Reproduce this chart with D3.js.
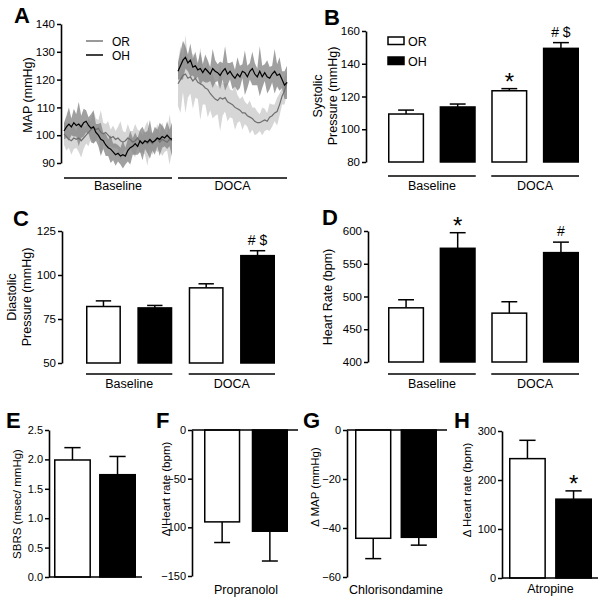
<!DOCTYPE html>
<html><head><meta charset="utf-8">
<script src="https://cdn.jsdelivr.net/npm/d3@7"></script>
<style>body{margin:0;background:#fff}svg{display:block}text{font-family:"Liberation Sans",Arial,sans-serif;fill:#000}</style>
</head><body><svg id="c" width="604" height="601"></svg>
<script>
// ---------- DATA ----------
const groups = ["Baseline", "DOCA"];
const strains = ["OR", "OH"];
const barCats = ["OR Baseline", "OH Baseline", "OR DOCA", "OH DOCA"];

// Panel A: MAP time course (mean and SEM)
const mapTicks = [90, 100, 110, 120, 130, 140];
const mapBaselineOH = [101.5,103,104,103,104.5,103.5,104,103,104.5,105,103.5,102.5,103,101,100,98.5,98,96.5,95.5,95,94,93,93.5,92.5,93,92.5,94.5,95.5,96,97,96,98,97,98,97.5,98.5,97.5,98,99,98.5,99.5,99,100,99,98.5];
const mapBaselineOR = [100.5,99.5,98.5,98,99,98.5,99,98,99,100,101,102,103,102,102.5,101,100.5,101,100,99,99.5,98.5,99,98,97.5,98,99,98.5,97.5,98,99,97.5,97,98,97,98,97,98,99,97.5,98.5,98,97.5,98.5,98];
const semBaselineOH = [3,4,6,3,5,4,8,4,5,4,3,5,6,3,4,6,3,4,3,5,3,4,3,3,5,3,4,6,3,4,3,4,6,3,4,7,3,5,3,6,4,3,5,3,6];
const semBaselineOR = [4,5,3,5,4,3,5,6,4,3,5,3,6,4,3,8,4,3,5,3,4,3,4,7,4,3,5,3,4,6,3,4,3,5,8,3,4,3,5,3,6,4,3,9,4];
const mapDocaOH = [123,125,127,128,126,127,124.5,125,123.5,124,122.5,124,123,122,124,123,122.5,121.5,123,124,122,123,121.5,120.5,122,121,123,122.5,121,123,124,122,121,123,121,122.5,121,120.5,122,123,121.5,122,120,118,119];
const mapDocaOR = [118.5,120,121.5,122,120.5,121,119.5,120.5,119,118.5,118,117,116.5,115,114,113,112.5,113.5,113,113.5,112,111.5,111,110,109.5,109,108,108,107,106.5,106,105,104.5,104.5,105,105.5,105,106.5,107,108,108.5,111,114,116,119];
const semDocaOH = [3,5,7,4,3,6,3,5,2.5,6,3,5,4,2.5,7,4,3,5,3,8,4,3,5,3,6,4,2.5,8,4,3,6,4,3,9,4,3,6,4,3,8,4,6,3,5,6];
const semDocaOR = [8,12,6,14,7,6,10,7,6,13,7,6,10,6,8,6,5,12,6,5,7,5,5,8,5,4,6,4,4,6,4,5,4,3,5,4,3,5,4,3,5,4,3,5,4];

// Panel B: systolic
const systolicMean = [109.3, 113.6, 123.5, 149.4];
const systolicSEM = [2.4, 1.8, 1.3, 3.5];
const systolicTicks = [80, 100, 120, 140, 160];
const systolicMarks = ["", "", "*", "# $"];
// Panel C: diastolic
const diastolicMean = [82.1, 81.3, 92.7, 111.0];
const diastolicSEM = [3.2, 1.4, 2.3, 2.8];
const diastolicTicks = [50, 75, 100, 125];
const diastolicMarks = ["", "", "", "# $"];
// Panel D: heart rate
const heartRateMean = [482.7, 573.6, 474.6, 567.0];
const heartRateSEM = [12.3, 23.8, 17.4, 16.0];
const heartRateTicks = [400, 450, 500, 550, 600];
const heartRateMarks = ["", "*", "", "#"];
// Panel E: SBRS
const sbrsMean = [1.99, 1.74];
const sbrsSEM = [0.21, 0.31];
const sbrsTicks = [0, 0.5, 1.0, 1.5, 2.0, 2.5];
// Panel F: propranolol
const propranololMean = [-94.4, -104.0];
const propranololSEM = [21.2, 30.6];
const propranololTicks = [-150, -100, -50, 0];
// Panel G: chlorisondamine
const chlorMean = [-44.2, -43.8];
const chlorSEM = [8.3, 3.2];
const chlorTicks = [-60, -40, -20, 0];
// Panel H: atropine
const atropineMean = [243.6, 160.9];
const atropineSEM = [37.4, 16.9];
const atropineTicks = [0, 100, 200, 300];
const atropineMarks = ["", "*"];

// ---------- DRAWING ----------
const svg = d3.select("#c");
const FONT = '"Liberation Sans", Arial, sans-serif';

function styleAxis(a, fs) {
  a.attr("font-family", FONT);
  a.select(".domain").attr("stroke", "#000").attr("stroke-width", 1.6);
  a.selectAll(".tick line").attr("stroke", "#000").attr("stroke-width", 1.5);
  a.selectAll(".tick text").attr("font-size", fs).attr("fill", "#000").attr("x", -6);
}

function yLabel(lines, cx, cy, fs, gap) {
  lines.forEach((t, i) => {
    const x = cx + (i - (lines.length - 1) / 2) * gap;
    svg.append("text").attr("transform", `translate(${x},${cy}) rotate(-90)`)
      .attr("text-anchor", "middle").attr("dy", "0.35em").attr("font-size", fs).text(t);
  });
}

function letter(t, x, y) {
  svg.append("text").attr("x", x).attr("y", y).attr("font-size", 22).attr("font-weight", "bold").text(t);
}

function barPanel(o) {
  const y = d3.scaleLinear().domain(o.domain).range(o.yRange);
  const x = d3.scaleBand().domain(o.cats).range(o.xRange).paddingInner(o.pad).paddingOuter(0);
  const bw = x.bandwidth();
  const base = o.base;
  const data = o.cats.map((c, i) => ({ c, v: o.mean[i], e: o.sem[i], m: o.marks ? o.marks[i] : "", fill: i % 2 === 0 ? "#fff" : "#000" }));
  const g = svg.append("g");
  data.forEach(d => {
    const end = d.v >= base ? d.v + d.e : d.v - d.e;
    const cx = x(d.c) + bw / 2;
    g.append("line").attr("x1", cx).attr("x2", cx).attr("y1", y(d.v)).attr("y2", y(end)).attr("stroke", "#000").attr("stroke-width", 1.5);
    g.append("line").attr("x1", cx - bw * 0.22).attr("x2", cx + bw * 0.22).attr("y1", y(end)).attr("y2", y(end)).attr("stroke", "#000").attr("stroke-width", 1.5);
    if (d.m) {
      const star = d.m === "*";
      g.append("text").attr("x", cx).attr("y", y(end) + (star ? 1.5 : -6)).attr("text-anchor", "middle")
        .attr("font-size", star ? 24 : 14).text(d.m);
    }
  });
  g.selectAll("rect.bar").data(data).join("rect")
    .attr("x", d => x(d.c) + 0.75).attr("width", bw - 1.5)
    .attr("y", d => Math.min(y(d.v), y(base))).attr("height", d => Math.abs(y(d.v) - y(base)))
    .attr("fill", d => d.fill).attr("stroke", "#000").attr("stroke-width", 1.5);
  if (o.xAxisTo) {
    g.append("line").attr("x1", o.axisX).attr("x2", o.xAxisTo).attr("y1", y(base)).attr("y2", y(base)).attr("stroke", "#000").attr("stroke-width", 1.6);
  }
  g.append("g").attr("transform", `translate(${o.axisX},0)`)
    .call(d3.axisLeft(y).tickValues(o.ticks).tickSize(4).tickSizeOuter(0).tickFormat(o.fmt || d3.format("d")))
    .call(a => styleAxis(a, o.tickFont));
  if (o.groupY) {
    groups.forEach((gname, gi) => {
      const x1 = x(o.cats[gi * 2]), x2 = x(o.cats[gi * 2 + 1]) + bw;
      g.append("line").attr("x1", x1).attr("x2", x2).attr("y1", o.groupY).attr("y2", o.groupY).attr("stroke", "#000").attr("stroke-width", 1.3);
      g.append("text").attr("x", (x1 + x2) / 2).attr("y", o.groupY + 14).attr("text-anchor", "middle").attr("font-size", 12.5).text(gname);
    });
  }
  if (o.catLabel) {
    g.append("text").attr("x", (o.xRange[0] + o.xRange[1]) / 2).attr("y", o.catLabelY).attr("text-anchor", "middle").attr("font-size", 12.5).text(o.catLabel);
  }
  return { x, y };
}

// ---- Panel A ----
(function () {
  const y = d3.scaleLinear().domain([90, 140]).range([163, 24]);
  const xb = d3.scaleLinear().domain([0, mapBaselineOH.length - 1]).range([64, 172]);
  const xd = d3.scaleLinear().domain([0, mapDocaOH.length - 1]).range([178, 287]);
  const g = svg.append("g");
  function band(xs, mean, sem, fill, op) {
    const area = d3.area().x((d, i) => xs(i)).y0((d, i) => y(d - sem[i])).y1((d, i) => y(d + sem[i]));
    g.append("path").datum(mean).attr("d", area).attr("fill", fill).attr("opacity", op);
  }
  function line(xs, mean, stroke, w) {
    const ln = d3.line().x((d, i) => xs(i)).y(d => y(d));
    g.append("path").datum(mean).attr("d", ln).attr("fill", "none").attr("stroke", stroke).attr("stroke-width", w);
  }
  band(xb, mapBaselineOR, semBaselineOR, "#d6d6d6", 1);
  band(xd, mapDocaOR, semDocaOR, "#d6d6d6", 1);
  band(xb, mapBaselineOH, semBaselineOH, "#808080", 0.75);
  band(xd, mapDocaOH, semDocaOH, "#808080", 0.75);
  line(xb, mapBaselineOR, "#6e6e6e", 1.2);
  line(xd, mapDocaOR, "#6e6e6e", 1.2);
  line(xb, mapBaselineOH, "#000", 1.2);
  line(xd, mapDocaOH, "#000", 1.2);
  g.append("g").attr("transform", "translate(61,0)")
    .call(d3.axisLeft(y).tickValues(mapTicks).tickSize(4).tickSizeOuter(0).tickFormat(d3.format("d")))
    .call(a => styleAxis(a, 11.5));
  [[xb, groups[0]], [xd, groups[1]]].forEach(([xs, name]) => {
    const [r0, r1] = xs.range();
    g.append("line").attr("x1", r0).attr("x2", r1).attr("y1", 178).attr("y2", 178).attr("stroke", "#000").attr("stroke-width", 1.3);
    g.append("text").attr("x", (r0 + r1) / 2).attr("y", 190).attr("text-anchor", "middle").attr("font-size", 12.5).text(name);
  });
  // legend
  [["#777", strains[0], 41], ["#000", strains[1], 55]].forEach(([c, t, ly]) => {
    g.append("line").attr("x1", 86).attr("x2", 103).attr("y1", ly).attr("y2", ly).attr("stroke", c).attr("stroke-width", 1.5);
    g.append("text").attr("x", 112).attr("y", ly + 4.5).attr("font-size", 12).text(t);
  });
})();
yLabel(["MAP (mmHg)"], 28, 95, 12.5, 0);
letter("A", 14, 23);

// ---- Panel B ----
barPanel({ cats: barCats, mean: systolicMean, sem: systolicSEM, marks: systolicMarks, domain: [80, 160], yRange: [162, 31],
  xRange: [388, 579], pad: 0.3, base: 80, ticks: systolicTicks, axisX: 366, tickFont: 11.5, groupY: 176 });
yLabel(["Systolic", "Pressure (mmHg)"], 325, 96, 12.5, 15);
letter("B", 324, 25);
[["#fff", strains[0], 37], ["#000", strains[1], 57]].forEach(([f, t, ly]) => {
  svg.append("rect").attr("x", 388).attr("y", ly).attr("width", 16).attr("height", 7.5).attr("fill", f).attr("stroke", "#000").attr("stroke-width", 1.5);
  svg.append("text").attr("x", 408).attr("y", ly + 8.5).attr("font-size", 12.5).text(t);
});

// ---- Panel C ----
barPanel({ cats: barCats, mean: diastolicMean, sem: diastolicSEM, marks: diastolicMarks, domain: [50, 125], yRange: [363, 231],
  xRange: [86, 275], pad: 0.32, base: 50, ticks: diastolicTicks, axisX: 62, tickFont: 11.5, groupY: 374 });
yLabel(["Diastolic", "Pressure (mmHg)"], 19, 297, 12.5, 15);
letter("C", 13, 226);

// ---- Panel D ----
barPanel({ cats: barCats, mean: heartRateMean, sem: heartRateSEM, marks: heartRateMarks, domain: [400, 600], yRange: [362, 231],
  xRange: [388, 579], pad: 0.3, base: 400, ticks: heartRateTicks, axisX: 368, tickFont: 11.5, groupY: 374 });
yLabel(["Heart Rate (bpm)"], 328, 297, 12.5, 0);
letter("D", 322, 225);

// ---- Panel E ----
barPanel({ cats: strains, mean: sbrsMean, sem: sbrsSEM, domain: [0, 2.5], yRange: [577, 430],
  xRange: [54, 136], pad: 0.18, base: 0, ticks: sbrsTicks, fmt: d3.format(".1f"), axisX: 49, tickFont: 11, xAxisTo: 142 });
yLabel(["SBRS (msec/ mmHg)"], 17, 504, 11.5, 0);
letter("E", 6, 428);

// ---- Panel F ----
barPanel({ cats: strains, mean: propranololMean, sem: propranololSEM, domain: [-150, 0], yRange: [576, 430],
  xRange: [204, 288], pad: 0.24, base: 0, ticks: propranololTicks, axisX: 192, tickFont: 11, xAxisTo: 298,
  catLabel: "Propranolol", catLabelY: 594 });
yLabel(["\u0394 Heart rate (bpm)"], 166, 489, 11.5, 0);
letter("F", 156, 428);

// ---- Panel G ----
barPanel({ cats: strains, mean: chlorMean, sem: chlorSEM, domain: [-60, 0], yRange: [577, 430],
  xRange: [355, 437], pad: 0.2, base: 0, ticks: chlorTicks, axisX: 347, tickFont: 11, xAxisTo: 447,
  catLabel: "Chlorisondamine", catLabelY: 594 });
yLabel(["\u0394 MAP (mmHg)"], 315, 487, 11.5, 0);
letter("G", 303, 428);

// ---- Panel H ----
barPanel({ cats: strains, mean: atropineMean, sem: atropineSEM, marks: atropineMarks, domain: [0, 300], yRange: [578, 431],
  xRange: [509, 592], pad: 0.2, base: 0, ticks: atropineTicks, axisX: 502, tickFont: 11, xAxisTo: 598,
  catLabel: "Atropine", catLabelY: 593 });
yLabel(["\u0394 Heart rate (bpm)"], 467, 490, 11.5, 0);
letter("H", 454, 428);
</script></body></html>
